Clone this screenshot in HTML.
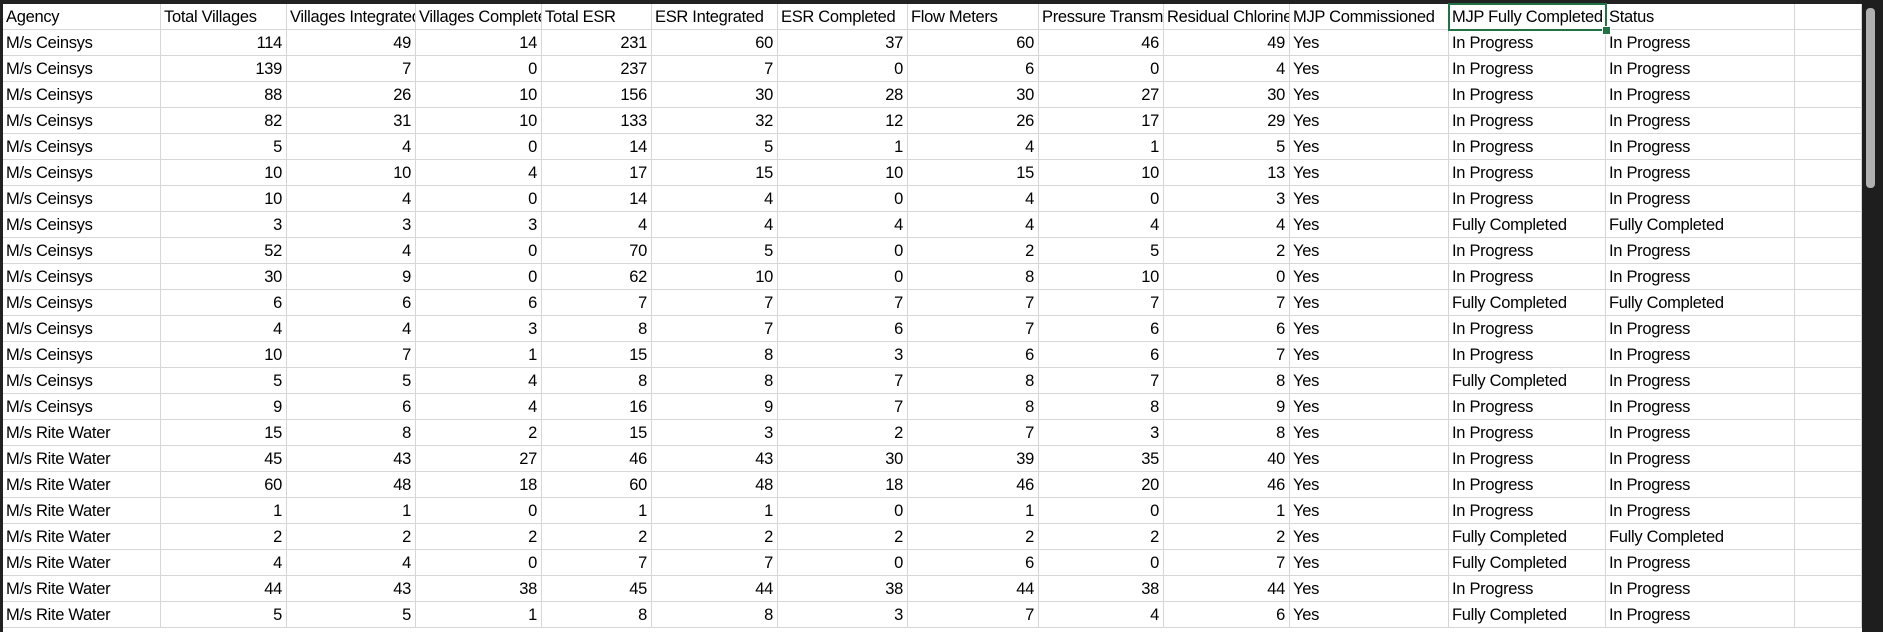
<!DOCTYPE html>
<html><head><meta charset="utf-8"><style>
html,body{margin:0;padding:0;width:1883px;height:632px;overflow:hidden;background:#fff;font-family:"Liberation Sans",sans-serif;}
#sheet{position:absolute;left:0;top:0;width:1883px;height:632px;}
.c{position:absolute;box-sizing:border-box;border-right:1px solid #d6d6d6;border-bottom:1px solid #d6d6d6;font-size:16.5px;color:#000;line-height:26px;white-space:nowrap;overflow:hidden;padding:0 4px 0 3px;letter-spacing:-0.3px}
.n{text-align:right}
#topbar{position:absolute;left:0;top:0;width:1883px;height:4px;background:#222}
#leftbar{position:absolute;left:0;top:0;width:3px;height:632px;background:#222}
#scroll{position:absolute;left:1862px;top:0;width:21px;height:632px;background:#1e1e1e}
#thumb{position:absolute;left:1866px;top:8px;width:9px;height:180px;background:#b0b0b0;border-radius:4px}
#sel{position:absolute;box-sizing:border-box;border:2px solid #217346}
#handle{position:absolute;width:7px;height:7px;background:#217346;border:1px solid #fff}
</style></head><body>
<div id="sheet"></div>
<script>
const headers=["Agency","Total Villages","Villages Integrated","Villages Completed","Total ESR","ESR Integrated","ESR Completed","Flow Meters","Pressure Transmitters","Residual Chlorine","MJP Commissioned","MJP Fully Completed","Status",""];
const edges=[3,161,287,416,542,652,778,908,1039,1164,1290,1449,1606,1795,1862];
const agencies=["M/s Ceinsys","M/s Ceinsys","M/s Ceinsys","M/s Ceinsys","M/s Ceinsys","M/s Ceinsys","M/s Ceinsys","M/s Ceinsys","M/s Ceinsys","M/s Ceinsys","M/s Ceinsys","M/s Ceinsys","M/s Ceinsys","M/s Ceinsys","M/s Ceinsys","M/s Rite Water","M/s Rite Water","M/s Rite Water","M/s Rite Water","M/s Rite Water","M/s Rite Water","M/s Rite Water","M/s Rite Water"];
const nums=[
[114,49,14,231,60,37,60,46,49],[139,7,0,237,7,0,6,0,4],[88,26,10,156,30,28,30,27,30],[82,31,10,133,32,12,26,17,29],
[5,4,0,14,5,1,4,1,5],[10,10,4,17,15,10,15,10,13],[10,4,0,14,4,0,4,0,3],[3,3,3,4,4,4,4,4,4],
[52,4,0,70,5,0,2,5,2],[30,9,0,62,10,0,8,10,0],[6,6,6,7,7,7,7,7,7],[4,4,3,8,7,6,7,6,6],
[10,7,1,15,8,3,6,6,7],[5,5,4,8,8,7,8,7,8],[9,6,4,16,9,7,8,8,9],[15,8,2,15,3,2,7,3,8],
[45,43,27,46,43,30,39,35,40],[60,48,18,60,48,18,46,20,46],[1,1,0,1,1,0,1,0,1],[2,2,2,2,2,2,2,2,2],
[4,4,0,7,7,0,6,0,7],[44,43,38,45,44,38,44,38,44],[5,5,1,8,8,3,7,4,6]];
const IP="In Progress",FC="Fully Completed";
const mjp=[IP,IP,IP,IP,IP,IP,IP,FC,IP,IP,FC,IP,IP,FC,IP,IP,IP,IP,IP,FC,FC,IP,FC];
const status=[IP,IP,IP,IP,IP,IP,IP,FC,IP,IP,FC,IP,IP,IP,IP,IP,IP,IP,IP,FC,IP,IP,IP];
const sheet=document.getElementById('sheet');
const top0=4,rowH=26;
function cell(r,c,txt,num){
  const d=document.createElement('div');
  d.className='c'+(num?' n':'');
  d.style.left=edges[c]+'px';d.style.width=(edges[c+1]-edges[c])+'px';
  d.style.top=(top0+r*rowH)+'px';d.style.height=rowH+'px';
  d.textContent=txt;
  
  
  sheet.appendChild(d);
}
headers.forEach((h,c)=>cell(0,c,h,false));
for(let i=0;i<agencies.length;i++){
  const r=i+1;
  cell(r,0,agencies[i],false);
  nums[i].forEach((v,j)=>cell(r,j+1,String(v),true));
  cell(r,10,"Yes",false);
  cell(r,11,mjp[i],false);
  cell(r,12,status[i],false);
  cell(r,13,"",false);
}
const parts=[['topbar','top-bar'],['leftbar','left-border'],['scroll','vertical-scrollbar'],['thumb','scrollbar-thumb'],['sel','selected-cell'],['handle','fill-handle']];
parts.forEach(p=>{const d=document.createElement('div');d.id=p[0];


sheet.appendChild(d);});
const s=document.getElementById('sel');
s.style.left=(edges[11]-1)+'px';s.style.top=(top0-1)+'px';s.style.width=(edges[12]-edges[11]+2)+'px';s.style.height=(rowH+2)+'px';
const hd=document.getElementById('handle');
hd.style.left=(edges[12]-4)+'px';hd.style.top=(top0+rowH-4)+'px';
</script>
</body></html>
